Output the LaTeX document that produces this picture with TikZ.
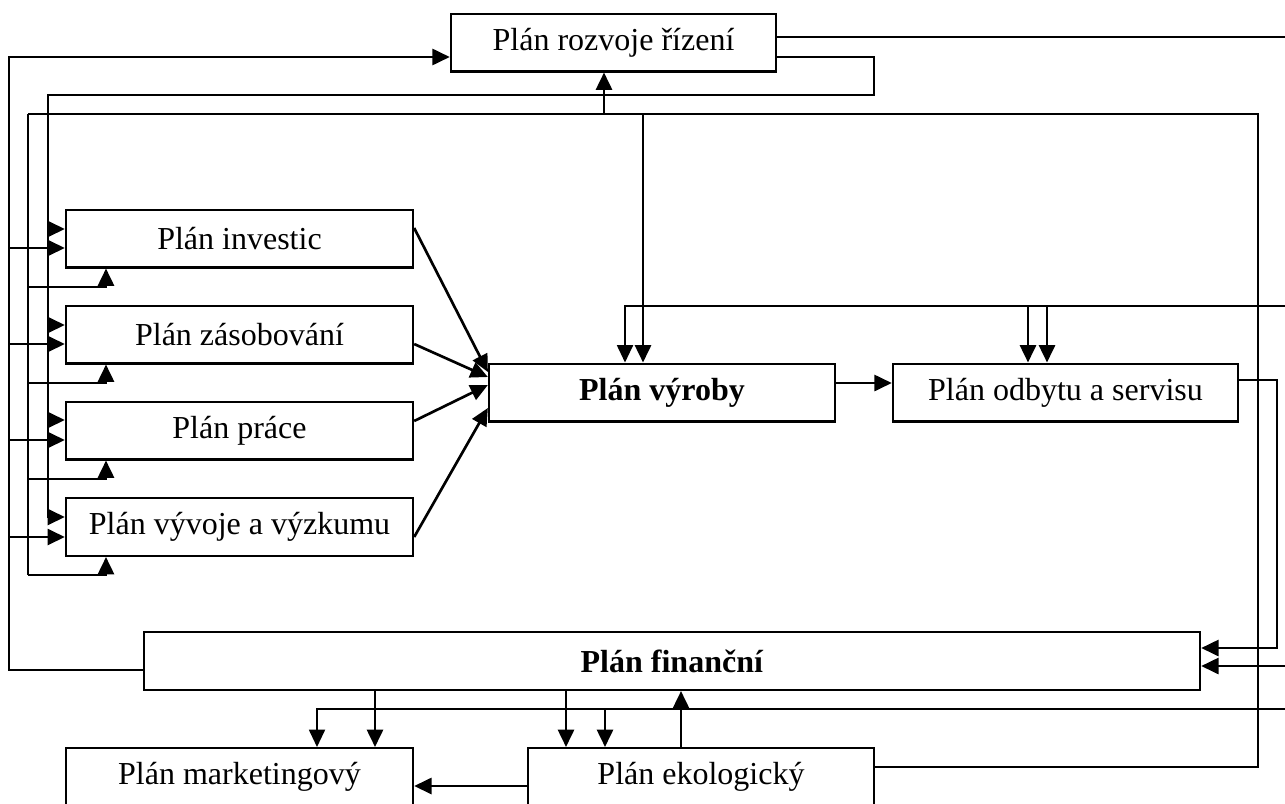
\documentclass[tikz,border=0pt]{standalone}
\usepackage{fontspec}
\setmainfont{Liberation Serif}
\usetikzlibrary{arrows.meta}

\tikzset{
	planbox/.style={draw,line width=0.9pt,inner sep=0pt,minimum height=21.6pt,font=\fontsize{12}{14}\selectfont},
	link/.style={line width=1pt},
	thinlink/.style={line width=0.7pt},
	arr/.style={link,-{Triangle[length=6.5pt,width=6pt]}},
	thinarr/.style={thinlink,-{Triangle[length=6.5pt,width=6pt]}}
}

\begin{document}
\begin{tikzpicture}[x=0.375pt,y=-0.375pt]
	\useasboundingbox (0,0) rectangle (1285,803);
	\clip (0,0) rectangle (1285,803);
	% boxes
	\node[planbox,minimum width=121.9pt] (rozvoj) at (613.5,42.5) {Plán rozvoje řízení};
	\node[planbox,minimum width=130.1pt] (invest) at (239.5,238.5) {Plán investic};
	\node[planbox,minimum width=130.1pt] (zasob) at (239.5,334.5) {Plán zásobování};
	\node[planbox,minimum width=130.1pt] (prace) at (239.5,430.5) {Plán práce};
	\node[planbox,minimum width=130.1pt] (vyzkum) at (239.5,527) {Plán vývoje a výzkumu};
	\node[planbox,minimum width=129.7pt] (vyroba) at (662,392.5) {\textbf{Plán výroby}};
	\node[planbox,minimum width=129.4pt] (odbyt) at (1065.5,392.5) {Plán odbytu a servisu};
	\node[planbox,minimum width=396pt] (finance) at (672,661) {\textbf{Plán finanční}};
	\node[planbox,minimum width=130.1pt] (marketing) at (239.5,777) {Plán marketingový};
	\node[planbox,minimum width=129.7pt] (ekolog) at (701,777) {Plán ekologický};
	% free ends at the right margin
	\coordinate (r37) at (1285,37);
	\coordinate (r306) at (1285,306);
	\coordinate (r666) at (1285,666);
	\coordinate (r709) at (1285,709);
	% top part
	\draw[thinlink] (rozvoj.east |- 0,37) -- (r37);
	\draw[arr] (rozvoj.east |- 0,57) -| (874,95) -| (48,517) -- (vyzkum.west |- 0,517);
	\foreach \b/\y in {invest/229,zasob/325,prace/420}
		\draw[arr] (48,\y) -- (\b.west |- 0,\y);
	\draw[arr] (finance.west |- 0,670) -| (9,57) -- (rozvoj.west |- 0,57);
	\foreach \b/\y in {invest/248,zasob/344,prace/440,vyzkum/537}
		\draw[arr] (9,\y) -- (\b.west |- 0,\y);
	\draw[thinlink] (ekolog.east |- 0,767) -| (1258,114) -- (28,114);
	\draw[link] (28,114) -- (28,575);
	\foreach \b/\y in {invest/287,zasob/383,prace/479,vyzkum/575}
		\draw[arr] (28,\y) -| (\b.south -| 106,0);
	\draw[arr] (604,114) -- (rozvoj.south -| 604,0);
	\draw[arr] (643,114) -- (vyroba.north -| 643,0);
	% middle part
	\draw[thinarr] (r306) -| (vyroba.north -| 625,0);
	\foreach \x in {1028,1047}
		\draw[arr] (\x,306) -- (odbyt.north -| \x,0);
	\foreach \b/\ya/\yb in {invest/228/372,zasob/344/377,prace/421/385,vyzkum/537/408}
		\draw[arr] (\b.east |- 0,\ya) -- (vyroba.west |- 0,\yb);
	\draw[arr] (vyroba.east |- 0,383) -- (odbyt.west |- 0,383);
	\draw[arr] (odbyt.east |- 0,380) -| (1277,648) -- (finance.east |- 0,648);
	% bottom part
	\draw[arr] (r666) -- (finance.east |- 0,666);
	\draw[thinarr] (r709) -| (marketing.north -| 317,0);
	\draw[arr] (605,709) -- (ekolog.north -| 605,0);
	\draw[arr] (finance.south -| 375,0) -- (marketing.north -| 375,0);
	\draw[arr] (finance.south -| 566,0) -- (ekolog.north -| 566,0);
	\draw[arr] (ekolog.north -| 681,0) -- (finance.south -| 681,0);
	\draw[arr] (ekolog.west |- 0,786) -- (marketing.east |- 0,786);
\end{tikzpicture}
\end{document}
